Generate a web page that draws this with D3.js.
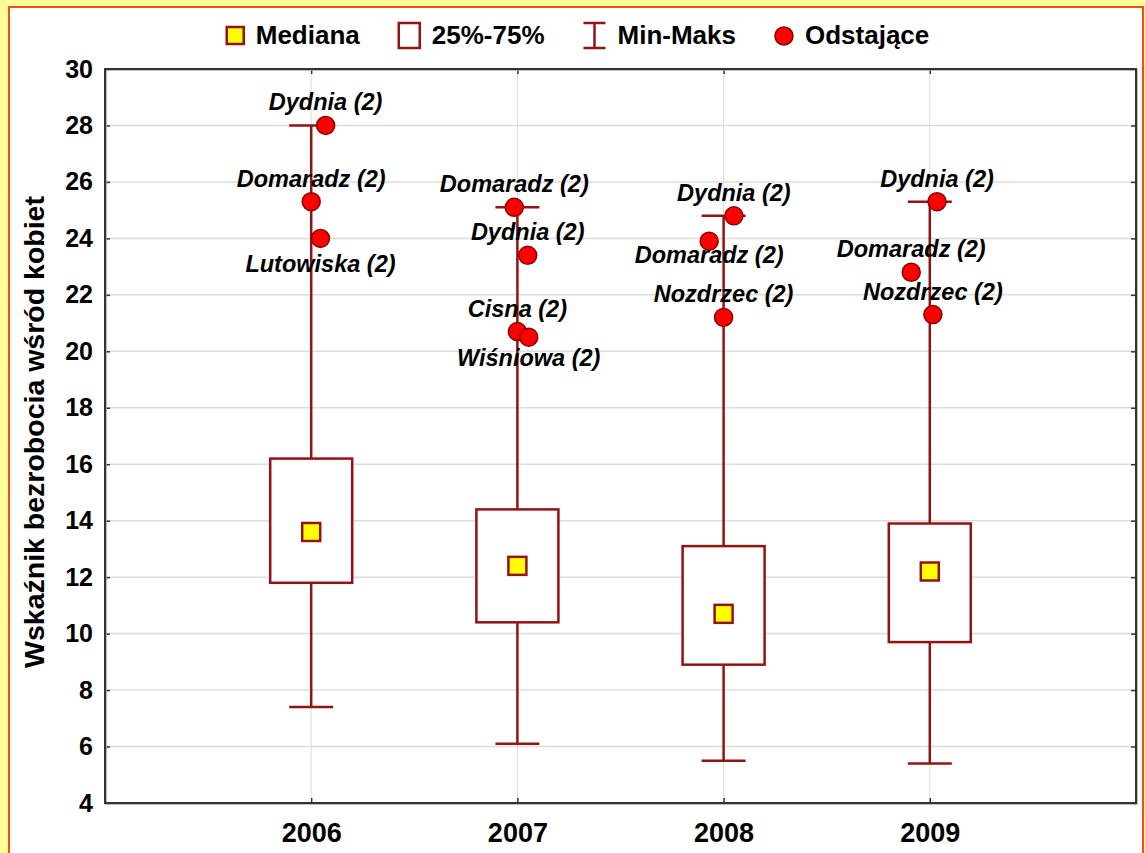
<!DOCTYPE html>
<html><head><meta charset="utf-8">
<script src="https://cdn.jsdelivr.net/npm/d3@7"></script>
<style>
body{margin:0;background:#ffff99;overflow:hidden}
svg{display:block}
text{font-family:"Liberation Sans",Arial,sans-serif;}
</style>
</head><body><svg id="c" width="1145" height="853"></svg>
<script>
// ---- data ----
const years = [2006, 2007, 2008, 2009];
const mins = [7.4, 6.1, 5.5, 5.4];
const q1 = [11.8, 10.4, 8.9, 9.7];
const medians = [13.6, 12.4, 10.7, 12.2];
const q3 = [16.2, 14.4, 13.1, 13.9];
const maxs = [28.0, 25.1, 24.8, 25.3];
const outlierYears = [2006, 2006, 2006, 2007, 2007, 2007, 2007, 2008, 2008, 2008, 2009, 2009, 2009];
const outlierNames = ["Dydnia (2)", "Domaradz (2)", "Lutowiska (2)", "Domaradz (2)", "Dydnia (2)", "Cisna (2)", "Wiśniowa (2)", "Dydnia (2)", "Domaradz (2)", "Nozdrzec (2)", "Dydnia (2)", "Domaradz (2)", "Nozdrzec (2)"];
const outlierValues = [28.0, 25.3, 24.0, 25.1, 23.4, 20.7, 20.5, 24.8, 23.9, 21.2, 25.3, 22.8, 21.3];
const outlierJitter = [0.07, 0, 0.045, -0.015, 0.05, 0, 0.055, 0.05, -0.07, 0, 0.035, -0.09, 0.015];
const yTicks = [4, 6, 8, 10, 12, 14, 16, 18, 20, 22, 24, 26, 28, 30];
const legendLabels = ["Mediana", "25%-75%", "Min-Maks", "Odstające"];
const yTitle = "Wskaźnik bezrobocia wśród kobiet";

// ---- drawing ----
const svg = d3.select("#c");
const W = 1145, H = 853;
const L = 105, R = 1136, T = 69, B = 803;
const dark = "#921313";
const x = d3.scaleLinear().domain([2005, 2010]).range([L, R]);
const y = d3.scaleLinear().domain([4, 30]).range([B, T]);

svg.append("rect").attr("width", W).attr("height", H).attr("fill", "#ffff99");
svg.append("rect").attr("x", 9).attr("y", 7).attr("width", 1134).attr("height", H)
  .attr("fill", "#fff").attr("stroke", "#ff4a12").attr("stroke-width", 2);

// grid
svg.append("g").selectAll("line").data(yTicks.filter(d => d > 4 && d < 30)).join("line")
  .attr("x1", L).attr("x2", R).attr("y1", d => y(d)).attr("y2", d => y(d))
  .attr("stroke", "#dcdcdc").attr("stroke-width", 1.5);
svg.append("g").selectAll("line").data(years).join("line")
  .attr("x1", d => x(d)).attr("x2", d => x(d)).attr("y1", T).attr("y2", B)
  .attr("stroke", "#dcdcdc").attr("stroke-width", 1);

// axes
const fontAxis = "bold 25px 'Liberation Sans', Arial, sans-serif";
const ay = svg.append("g").attr("transform", `translate(${L},0)`)
  .call(d3.axisLeft(y).tickValues(yTicks).tickSizeInner(-5).tickSizeOuter(0).tickPadding(12).tickFormat(d3.format("d")));
ay.selectAll("text").style("font", fontAxis).attr("fill", "#000");
const ax = svg.append("g").attr("transform", `translate(0,${B})`)
  .call(d3.axisBottom(x).tickValues(years).tickSizeInner(-5).tickSizeOuter(0).tickFormat(d3.format("d")));
ax.selectAll("text").style("font", "bold 27px 'Liberation Sans', Arial, sans-serif").attr("fill", "#000")
  .attr("y", 39).attr("dy", 0);
svg.append("g").attr("transform", `translate(0,${T})`)
  .call(d3.axisTop(x).tickValues(years).tickSizeInner(-5).tickSizeOuter(0).tickFormat(""));
svg.append("g").attr("transform", `translate(${R},0)`)
  .call(d3.axisRight(y).tickValues(yTicks).tickSizeInner(-5).tickSizeOuter(0).tickFormat(""));
svg.selectAll(".domain").remove();
svg.selectAll(".tick line").attr("stroke", "#333").attr("stroke-width", 1.5);

// frame
svg.append("rect").attr("x", L + 1).attr("y", T + 1).attr("width", R - L).attr("height", B - T)
  .attr("fill", "none").attr("stroke", "#aaa").attr("stroke-width", 1.5);
svg.append("rect").attr("x", L).attr("y", T).attr("width", R - L).attr("height", B - T)
  .attr("fill", "none").attr("stroke", "#333").attr("stroke-width", 2);

// boxes
const boxW = 82, capW = 44, medS = 18;
const boxes = years.map((yr, i) => ({yr, min: mins[i], q1: q1[i], med: medians[i], q3: q3[i], max: maxs[i]}));
const gb = svg.append("g");
gb.selectAll("line.wl").data(boxes).join("line").attr("class", "wl")
  .attr("x1", d => x(d.yr)).attr("x2", d => x(d.yr)).attr("y1", d => y(d.min)).attr("y2", d => y(d.q1))
  .attr("stroke", dark).attr("stroke-width", 2.5);
gb.selectAll("line.wh").data(boxes).join("line").attr("class", "wh")
  .attr("x1", d => x(d.yr)).attr("x2", d => x(d.yr)).attr("y1", d => y(d.q3)).attr("y2", d => y(d.max))
  .attr("stroke", dark).attr("stroke-width", 2.5);
gb.selectAll("line.cmin").data(boxes).join("line").attr("class", "cmin")
  .attr("x1", d => x(d.yr) - capW / 2).attr("x2", d => x(d.yr) + capW / 2).attr("y1", d => y(d.min)).attr("y2", d => y(d.min))
  .attr("stroke", dark).attr("stroke-width", 2.5);
gb.selectAll("line.cmax").data(boxes).join("line").attr("class", "cmax")
  .attr("x1", d => x(d.yr) - capW / 2).attr("x2", d => x(d.yr) + capW / 2).attr("y1", d => y(d.max)).attr("y2", d => y(d.max))
  .attr("stroke", dark).attr("stroke-width", 2.5);
gb.selectAll("rect.box").data(boxes).join("rect").attr("class", "box")
  .attr("x", d => x(d.yr) - boxW / 2).attr("width", boxW).attr("y", d => y(d.q3)).attr("height", d => y(d.q1) - y(d.q3))
  .attr("fill", "#fff").attr("stroke", dark).attr("stroke-width", 2.5);
gb.selectAll("rect.med").data(boxes).join("rect").attr("class", "med")
  .attr("x", d => x(d.yr) - medS / 2).attr("width", medS).attr("y", d => y(d.med) - medS / 2).attr("height", medS)
  .attr("fill", "#ffff00").attr("stroke", dark).attr("stroke-width", 2.5);

// outliers
const outliers = outlierValues.map((v, i) => ({v, yr: outlierYears[i], name: outlierNames[i], j: outlierJitter[i], i}));
const labelDy = {2: 34, 6: 29, 8: 22};
const go = svg.append("g");
go.selectAll("circle").data(outliers).join("circle")
  .attr("cx", d => x(d.yr + d.j)).attr("cy", d => y(d.v)).attr("r", 9)
  .attr("fill", "#ff0000").attr("stroke", "#8b0000").attr("stroke-width", 1.5);
go.selectAll("text").data(outliers).join("text")
  .attr("x", d => x(d.yr + d.j)).attr("y", d => y(d.v) + (labelDy[d.i] !== undefined ? labelDy[d.i] : -15))
  .attr("text-anchor", "middle").style("font", "italic bold 23.5px 'Liberation Sans', Arial, sans-serif")
  .attr("fill", "#000").text(d => d.name);

// y title
svg.append("text").attr("transform", "translate(44,432) rotate(-90)")
  .attr("text-anchor", "middle").style("font", "bold 28.5px 'Liberation Sans', Arial, sans-serif")
  .attr("fill", "#000").text(yTitle);

// legend
const lg = svg.append("g");
const legFont = "bold 26px 'Liberation Sans', Arial, sans-serif";
const markerW = [17, 21, 22, 18];
let cx = 0;
legendLabels.forEach((lab, i) => {
  const g = lg.append("g");
  const mx = cx;
  if (i === 0) {
    g.append("rect").attr("x", mx).attr("y", 27).attr("width", 17).attr("height", 17)
      .attr("fill", "#ffff00").attr("stroke", dark).attr("stroke-width", 2.5);
  } else if (i === 1) {
    g.append("rect").attr("x", mx).attr("y", 23).attr("width", 21).attr("height", 25)
      .attr("fill", "#fff").attr("stroke", dark).attr("stroke-width", 2.5);
  } else if (i === 2) {
    g.append("path").attr("d", `M${mx},23H${mx + 22}M${mx + 11},23V48M${mx},48H${mx + 22}`)
      .attr("fill", "none").attr("stroke", dark).attr("stroke-width", 2.5);
  } else {
    g.append("circle").attr("cx", mx + 9).attr("cy", 36).attr("r", 9)
      .attr("fill", "#ff0000").attr("stroke", "#8b0000").attr("stroke-width", 1.5);
  }
  const t = g.append("text").attr("x", mx + markerW[i] + 12).attr("y", 44)
    .style("font", legFont).attr("fill", "#000").text(lab);
  cx = mx + markerW[i] + 12 + t.node().getComputedTextLength() + 39;
});
const legW = cx - 39;
lg.attr("transform", `translate(${578 - legW / 2},0)`);
</script>
</body></html>
